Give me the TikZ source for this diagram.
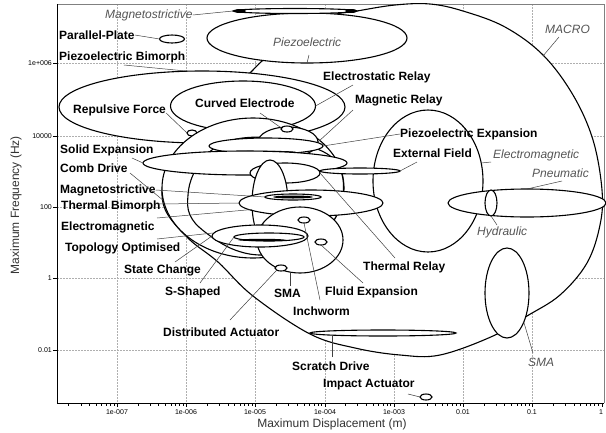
\documentclass[tikz,border=0pt]{standalone}
\usepackage{fontspec}
\setmainfont{Liberation Sans}
\usetikzlibrary{shapes.geometric}
\definecolor{lblgray}{RGB}{85,85,85}
\definecolor{gridgray}{RGB}{175,175,175}
\tikzset{
  reg/.style={ellipse, draw=black, line width=1.1pt, fill=white, inner sep=0pt, outer sep=0pt},
  dark/.style={ellipse, fill=black, draw=none, inner sep=0pt, outer sep=0pt},
  blob/.style={draw=black, line width=1.1pt, fill=white},
  lbl/.style={font=\fontsize{12}{14}\selectfont\bfseries, inner sep=0pt, anchor=west},
  ilbl/.style={font=\fontsize{12}{14}\selectfont\itshape, text=lblgray, inner sep=0pt, anchor=west},
  lead/.style={draw=black!75, line width=0.5pt},
  tick/.style={font=\fontsize{7}{8}\selectfont, inner sep=0pt},
  grd/.style={draw=gridgray, line width=0.6pt, dash pattern=on 1.5pt off 1.5pt},
}
\newcommand{\reg}[5]{\node[reg, minimum width=#4pt, minimum height=#5pt] (#1) at (#2,#3) {};}
\newcommand{\dk}[5]{\node[dark, minimum width=#4pt, minimum height=#5pt] (#1) at (#2,#3) {};}
\begin{document}
\begin{tikzpicture}[x=1pt,y=-1pt]
\useasboundingbox (0,0) rectangle (606,432);
\fill[white] (0,0) rectangle (606,432);
% grid
\foreach \gx in {117,186,255,325,394,463,532} \draw[grd] (\gx,4) -- (\gx,403);
\foreach \gy in {63,136,207,278,350} \draw[grd] (57,\gy) -- (604,\gy);
% frame
\draw[gray, line width=0.6pt] (57,4) -- (604,4) -- (604,403);
\draw[black, line width=0.8pt] (57,4) -- (57,403) -- (604,403);
% x ticks
\foreach \d in {-8,...,-1} {
  \foreach \m in {2,...,9} {
    \pgfmathsetmacro{\tx}{117+69.2*(\d+7+log10(\m))}
    \ifdim\tx pt>57pt \draw[black,line width=0.5pt] (\tx,403) -- (\tx,405.5); \fi
  }
}
\foreach \gx in {117,186,255,325,394,463,532,602} \draw[black,line width=0.6pt] (\gx,403) -- (\gx,407);
\node[tick] (xl1) at (117,412) {1e-007};
\node[tick] (xl2) at (186,412) {1e-006};
\node[tick] (xl3) at (255,412) {1e-005};
\node[tick] (xl4) at (325,412) {1e-004};
\node[tick] (xl5) at (394,412) {1e-003};
\node[tick] (xl6) at (463,412) {0.01};
\node[tick] (xl7) at (532,412) {0.1};
\node[tick] (xl8) at (601,412) {1};
\foreach \gy in {63,136,207,278,350} \draw[black,line width=0.6pt] (53,\gy) -- (57,\gy);
\node[tick,anchor=east] (yl1) at (52,63) {1e+006};
\node[tick,anchor=east] (yl2) at (52,136) {10000};
\node[tick,anchor=east] (yl3) at (52,207) {100};
\node[tick,anchor=east] (yl4) at (52,278) {1};
\node[tick,anchor=east] (yl5) at (52,350) {0.01};
\node[font=\fontsize{12}{14}\selectfont, text=black!80] (xlab) at (332,424) {Maximum Displacement (m)};
\node[font=\fontsize{12}{14}\selectfont, text=black!80, rotate=90] (ylab) at (16,205) {Maximum Frequency (Hz)};
% MACRO outline
\filldraw[blob] plot[smooth cycle, tension=0.6] coordinates {
 (357,11) (395,5) (430,4) (463,11) (505,27) (543,55) (573,95) (593,140) (602,190) (600,225) (587,263) (560,295) (527,316) (493,336) (440,355) (400,355) (355,348) (310,334) (253,296) (218,262) (190,240) (168,215) (162,195) (166,178) (182,148) (215,108) (250,73) (262,61) (290,35) (330,16)};
\reg{emmac}{428}{181}{110}{142}
\reg{pneu}{527}{203}{158}{28}
\reg{hydr}{491}{203}{12}{26}
\reg{smamac}{507}{293}{44}{90}
\reg{piezo}{307}{38}{200}{50}
\reg{magtop}{295}{11}{124}{5}
\dk{magtopL}{240}{11}{12}{4}
\dk{magtopR}{351}{11}{12}{4}
\reg{ppl}{172}{39}{25}{8}
\reg{bimorph}{202}{107}{286}{72}
\reg{erelay}{243}{106}{145}{50}
\reg{repul}{192}{133}{10}{6}
\reg{comb}{253}{188}{182}{140}
% egg-shaped region
\filldraw[blob] plot[smooth cycle, tension=0.65] coordinates {
 (232,140) (206,155) (193,175) (188,195) (190,215) (205,232) (235,250) (267,255) (303,248) (330,226) (343,195) (338,165) (315,148) (272,138)};
\reg{mrelay}{288}{142}{60}{30}
\reg{curved}{287}{129}{12}{6}
\reg{pexp}{266}{146}{114}{16}
\dk{pexpD}{264}{152}{64}{2.4}
\reg{solid}{245}{163}{204}{24}
\reg{trelay}{285}{173}{70}{20}
\reg{extf}{360}{171}{80}{6}
\reg{emmems}{270}{203}{36}{86}
\reg{tbim}{311}{203}{144}{26}
\reg{magmid}{293}{197}{56}{6}
\dk{magmidD}{293}{197}{40}{3}
\reg{smacirc}{300}{240}{86}{66}
\reg{inch}{304}{220}{12}{6}
\reg{fluid}{321}{242}{12}{6}
\reg{distr}{281}{268}{12}{6}
\reg{state}{260}{236}{96}{22}
\reg{sshape}{269}{237}{70}{8}
\dk{sshapeD}{262}{240}{48}{2.4}
\reg{scratch}{383}{333}{146}{6}
\reg{impact}{426}{397}{12}{6}
% labels
\node[ilbl] (tMagTop) at (105,15) {Magnetostrictive};
\node[lbl] (tPP) at (59,35) {Parallel-Plate};
\node[lbl] (tPB) at (59,57) {Piezoelectric Bimorph};
\node[lbl] (tRF) at (73,110) {Repulsive Force};
\node[lbl] (tCE) at (195,103) {Curved Electrode};
\node[lbl] (tER) at (323,77) {Electrostatic Relay};
\node[lbl] (tMR) at (355,100) {Magnetic Relay};
\node[lbl] (tPE) at (400,134) {Piezoelectric Expansion};
\node[lbl] (tEF) at (393,153) {External Field};
\node[ilbl] (tEMm) at (493,155) {Electromagnetic};
\node[ilbl] (tPn) at (532,173) {Pneumatic};
\node[ilbl] (tMac) at (545,29) {MACRO};
\node[ilbl] (tPz) at (273,42) {Piezoelectric};
\node[ilbl] (tHy) at (477,232) {Hydraulic};
\node[ilbl] (tSMAm) at (528,362) {SMA};
\node[lbl] (tSE) at (60,150) {Solid Expansion};
\node[lbl] (tCD) at (60,168) {Comb Drive};
\node[lbl] (tMS) at (60,190) {Magnetostrictive};
\node[lbl] (tTB) at (61,206) {Thermal Bimorph};
\node[lbl] (tEM) at (61,227) {Electromagnetic};
\node[lbl] (tTO) at (65,248) {Topology Optimised};
\node[lbl] (tSC) at (124,270) {State Change};
\node[lbl] (tSS) at (165,292) {S-Shaped};
\node[lbl] (tSMA) at (274,293) {SMA};
\node[lbl] (tIW) at (293,311) {Inchworm};
\node[lbl] (tFE) at (325,292) {Fluid Expansion};
\node[lbl] (tTR) at (363,267) {Thermal Relay};
\node[lbl] (tDA) at (163,332) {Distributed Actuator};
\node[lbl] (tSD) at (292,366) {Scratch Drive};
\node[lbl] (tIA) at (323,385) {Impact Actuator};
% leader end points
\coordinate (pEMm) at (481,163);
\coordinate (pMac) at (543,56);
\coordinate (pHy) at (497,225);
\coordinate (pSMAm) at (533,353);
\coordinate (pPz) at (309,55);
\coordinate (pTO) at (213,233);
\coordinate (pSMA) at (290,273);
\coordinate (pSD) at (332,335);
% leaders
\draw[lead] (tMagTop.east) -- (magtop.west);
\draw[lead] (tPP.east) -- (ppl.west);
\draw[lead] (124,65) -- (bimorph.112);
\draw[lead] (tRF.east) ++(0,3) -- (repul.west);
\draw[lead] (260,113) -- (curved.170);
\draw[lead] (353,85) -- (erelay.east);
\draw[lead] (353,110) -- (mrelay.east);
\draw[lead] (tPE.west) -- (pexp.east);
\draw[lead] (417,162) -- (extf.east);
\draw[lead] (491,162) -- (pEMm);
\draw[lead] (562,181) -- (pneu.north);
\draw[lead] (559,37) -- (pMac);
\draw[lead] (piezo.south) -- (pPz);
\draw[lead] (hydr.south) -- (pHy);
\draw[lead] (smamac.-60) -- (pSMAm);
\draw[lead] (132,158) -- (solid.west);
\draw[lead] (130,173) -- (comb.188);
\draw[lead] (tMS.east) -- (magmid.west);
\draw[lead] (158,204) -- (tbim.west);
\draw[lead] (157,218) -- (emmems.-160);
\draw[lead] (157,239) -- (pTO);
\draw[lead] (175,262) -- (state.west);
\draw[lead] (200,283) -- (sshape.west);
\draw[lead] (290,286) -- (pSMA);
\draw[lead] (320,300) -- (inch.south);
\draw[lead] (363,283) -- (fluid.south);
\draw[lead] (395,258) -- (trelay.east);
\draw[lead] (230,320) -- (distr.south west);
\draw[lead] (332,357) -- (pSD);
\draw[lead] (408,394) -- (impact.west);
\end{tikzpicture}
\end{document}
